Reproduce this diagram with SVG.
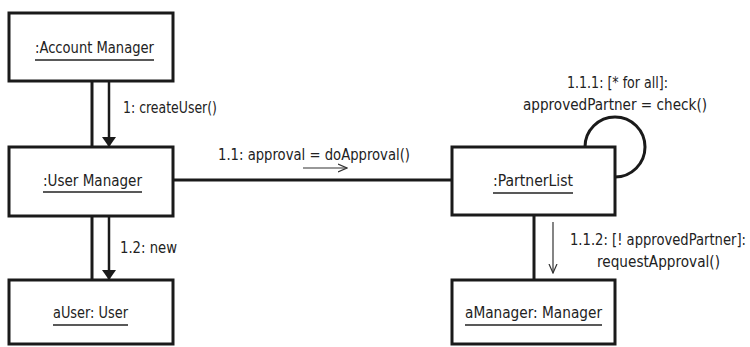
<svg xmlns="http://www.w3.org/2000/svg" width="750" height="347" viewBox="0 0 750 347">
  <style>
    .box { fill: #ffffff; stroke: #1a1a1a; stroke-width: 3; }
    .link { fill: none; stroke: #1a1a1a; stroke-width: 3; }
    .msg { fill: none; stroke: #1a1a1a; stroke-width: 2.5; }
    .thin { fill: none; stroke: #333333; stroke-width: 1.2; }
    .ul { stroke: #222222; stroke-width: 1.3; }
    text { font-family: "DejaVu Sans Condensed", "Liberation Sans", sans-serif; font-size: 15px; fill: #222222; }
  </style>
  <defs>
    <marker id="solid" markerWidth="10" markerHeight="14" refX="9" refY="7" orient="auto" markerUnits="userSpaceOnUse">
      <path d="M0,0 L10,7 L0,14 Z" fill="#1a1a1a"/>
    </marker>
    <marker id="open" markerWidth="10" markerHeight="10" refX="9" refY="5" orient="auto" markerUnits="userSpaceOnUse">
      <path d="M0,1 L9,5 L0,9" fill="none" stroke="#333333" stroke-width="1.2"/>
    </marker>
  </defs>
  <rect width="750" height="347" fill="#ffffff"/>

  <g id="connectors">
    <!-- links -->
    <line class="link" x1="92" y1="81" x2="92" y2="147"/>
    <line class="link" x1="92" y1="216" x2="92" y2="280"/>
    <line class="link" x1="174" y1="180" x2="452" y2="180"/>
    <line class="link" x1="534" y1="215" x2="534" y2="280"/>
    <path class="link" d="M585,147 A30,30 0 1 1 615,177"/>
    <!-- message arrows -->
    <line class="msg" x1="109" y1="81" x2="109" y2="146" marker-end="url(#solid)"/>
    <line class="msg" x1="109" y1="216" x2="109" y2="279" marker-end="url(#solid)"/>
    <line class="thin" x1="303" y1="168" x2="347" y2="168" marker-end="url(#open)"/>
    <line class="thin" x1="553" y1="222" x2="553" y2="273" marker-end="url(#open)"/>
    <!-- message labels -->
    <text x="123" y="113" textLength="94" lengthAdjust="spacingAndGlyphs">1: createUser()</text>
    <text x="120" y="253" textLength="57" lengthAdjust="spacingAndGlyphs">1.2: new</text>
    <text x="218" y="160" textLength="192" lengthAdjust="spacingAndGlyphs">1.1: approval = doApproval()</text>
    <text x="567" y="88" textLength="101" lengthAdjust="spacingAndGlyphs">1.1.1: [* for all]:</text>
    <text x="523" y="110" textLength="184" lengthAdjust="spacingAndGlyphs">approvedPartner = check()</text>
    <text x="570" y="245" textLength="176" lengthAdjust="spacingAndGlyphs">1.1.2: [! approvedPartner]:</text>
    <text x="597" y="267" textLength="123" lengthAdjust="spacingAndGlyphs">requestApproval()</text>
  </g>

  <g id="account-manager">
    <rect class="box" x="9" y="13" width="164" height="68"/>
    <text x="35" y="53" textLength="119" lengthAdjust="spacingAndGlyphs">:Account Manager</text>
    <line class="ul" x1="35" y1="60" x2="154" y2="60"/>
  </g>

  <g id="user-manager">
    <rect class="box" x="9" y="147" width="164" height="69"/>
    <text x="43" y="186" textLength="99" lengthAdjust="spacingAndGlyphs">:User Manager</text>
    <line class="ul" x1="43" y1="192" x2="142" y2="192"/>
  </g>

  <g id="a-user">
    <rect class="box" x="9" y="280" width="164" height="64"/>
    <text x="53" y="318" textLength="75" lengthAdjust="spacingAndGlyphs">aUser: User</text>
    <line class="ul" x1="53" y1="325" x2="128" y2="325"/>
  </g>

  <g id="partner-list">
    <rect class="box" x="452" y="147" width="163" height="68"/>
    <text x="493" y="186" textLength="80" lengthAdjust="spacingAndGlyphs">:PartnerList</text>
    <line class="ul" x1="493" y1="193" x2="573" y2="193"/>
  </g>

  <g id="a-manager">
    <rect class="box" x="452" y="280" width="163" height="64"/>
    <text x="465" y="318" textLength="137" lengthAdjust="spacingAndGlyphs">aManager: Manager</text>
    <line class="ul" x1="465" y1="325" x2="602" y2="325"/>
  </g>
</svg>
